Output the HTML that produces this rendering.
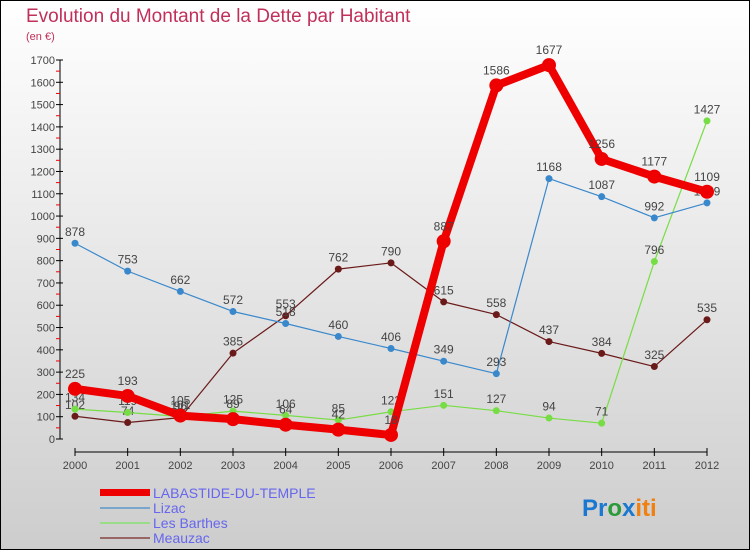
<!DOCTYPE html>
<html><head><meta charset="utf-8"><style>
body{margin:0;width:750px;height:550px;overflow:hidden;font-family:"Liberation Sans",sans-serif}
svg{display:block}
</style></head><body>
<svg id="c" width="750" height="550" xmlns="http://www.w3.org/2000/svg">
<defs><linearGradient id="bg" x1="0" y1="0" x2="0" y2="1"><stop offset="0" stop-color="#ffffff"/><stop offset="1" stop-color="#cdcdcd"/></linearGradient></defs>
<rect x="0.5" y="0.5" width="749" height="549" fill="url(#bg)" stroke="#000"/>
<text x="26" y="22" font-size="19" fill="#c0305a">Evolution du Montant de la Dette par Habitant</text>
<text x="26" y="40" font-size="11" fill="#c0305a">(en €)</text>
<g id="axes"></g><g id="series"></g>
<g>
<rect x="100" y="489" width="50" height="7" fill="#e00"/>
<text x="153" y="498" font-size="14" fill="#6666ee">LABASTIDE-DU-TEMPLE</text>
<line x1="100" y1="508" x2="150" y2="508" stroke="#7aa6cc" stroke-width="2"/>
<text x="153" y="513" font-size="14" fill="#6666ee">Lizac</text>
<line x1="100" y1="523" x2="150" y2="523" stroke="#99dd88" stroke-width="2"/>
<text x="153" y="528" font-size="14" fill="#6666ee">Les Barthes</text>
<line x1="100" y1="538" x2="150" y2="538" stroke="#996666" stroke-width="2"/>
<text x="153" y="543" font-size="14" fill="#6666ee">Meauzac</text>
</g>
<text x="582" y="516" font-size="24" font-weight="bold"><tspan fill="#1a78d0">Pr</tspan><tspan fill="#2a9a3a">o</tspan><tspan fill="#1a78d0">x</tspan><tspan fill="#f08010">iti</tspan></text>
</svg>
<script>
const years=[2000,2001,2002,2003,2004,2005,2006,2007,2008,2009,2010,2011,2012];
const yTicks=[0,100,200,300,400,500,600,700,800,900,1000,1100,1200,1300,1400,1500,1600,1700];
const labastide=[225,193,105,89,64,42,18,887,1586,1677,1256,1177,1109];
const lizac=[878,753,662,572,518,460,406,349,293,1168,1087,992,1059];
const barthes=[134,119,101,125,106,85,122,151,127,94,71,796,1427];
const meauzac=[102,74,96,385,553,762,790,615,558,437,384,325,535];
const NS="http://www.w3.org/2000/svg";
const X=i=>75+i*(632/12), Y=v=>439-v*(379/1700);
function mk(t,a,p){const e=document.createElementNS(NS,t);for(const k in a)e.setAttribute(k,a[k]);p.appendChild(e);return e;}
const ax=document.getElementById('axes'), sg=document.getElementById('series');
let l=mk('line',{x1:60,y1:Y(1700),x2:60,y2:439,stroke:'#000'},ax);


l=mk('line',{x1:75,y1:452,x2:707,y2:452,stroke:'#000'},ax);


yTicks.forEach((v,i)=>{
 mk('line',{x1:56,y1:Y(v),x2:63,y2:Y(v),stroke:'#000'},ax);
 if(i<yTicks.length-1)mk('line',{x1:56,y1:Y(v+50),x2:60,y2:Y(v+50),stroke:'#e00'},ax);
 const t=mk('text',{x:55,y:Y(v)+4,'font-size':11,fill:'#444','text-anchor':'end'},ax);t.textContent=v;
 
 
});
years.forEach((y,i)=>{
 mk('line',{x1:X(i),y1:448,x2:X(i),y2:456,stroke:'#000'},ax);
 const t=mk('text',{x:X(i),y:469,'font-size':11,fill:'#444','text-anchor':'middle'},ax);t.textContent=y;
 
 
});
function series(d,col,w,r,name){
 const g=mk('g',{},sg);
 
 
 mk('polyline',{points:d.map((v,i)=>X(i)+','+Y(v)).join(' '),fill:'none',stroke:col,'stroke-width':w,'stroke-linejoin':'round'},g);
 d.forEach((v,i)=>{
  const c=mk('circle',{cx:X(i),cy:Y(v),r:r,fill:col},g);
  
  
  const t=mk('text',{x:X(i),y:Y(v)-r-4,'font-size':12,fill:'#444','text-anchor':'middle'},g);t.textContent=v;
  
  
 });
}
series(meauzac,'#6b1a1a',1.2,3.5,'meauzac');
series(barthes,'#77dd44',1.2,3.5,'les-barthes');
series(lizac,'#3a88cc',1.2,3.5,'lizac');
series(labastide,'#ee0000',8,7,'labastide');
</script>
</body></html>
